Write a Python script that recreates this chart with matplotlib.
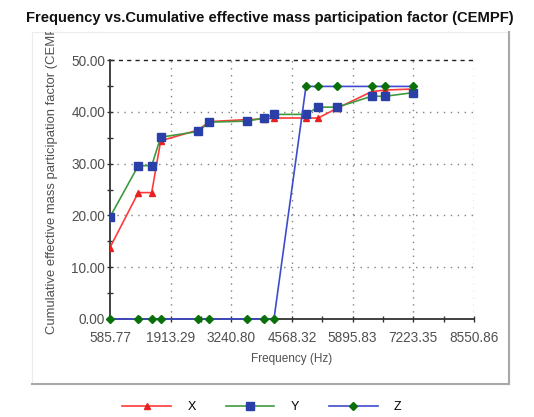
import numpy as np
import matplotlib
matplotlib.use("Agg")
import matplotlib.pyplot as plt
from matplotlib.patches import Rectangle
from matplotlib.ticker import MultipleLocator, FixedLocator

plt.rcParams['font.family'] = ['Liberation Sans', 'DejaVu Sans']

# Frequencies of the modes (Hz) and cumulative participation (%) per direction
freq = [585.77, 1205, 1498, 1695, 2518, 2758, 3577, 3955, 4174,
        4874, 5143, 5559, 6312, 6603, 7223.35]
cempf_x = [13.8, 24.4, 24.4, 34.4, 36.5, 38.1, 38.5, 38.6, 38.8,
           38.8, 38.8, 40.7, 43.9, 44.2, 44.4]
cempf_y = [19.7, 29.6, 29.6, 35.1, 36.2, 38.0, 38.2, 38.8, 39.5,
           39.5, 40.9, 40.9, 43.0, 43.0, 43.7]
cempf_z = [0.0, 0.0, 0.0, 0.0, 0.0, 0.0, 0.0, 0.0, 0.0,
           44.9, 44.9, 44.9, 44.9, 44.9, 44.9]

xtick_vals = [585.77, 1913.29, 3240.80, 4568.32, 5895.83, 7223.35, 8550.86]
ytick_vals = [0, 10, 20, 30, 40, 50]

fig = plt.figure(figsize=(5.34, 4.17), dpi=100)

# grey framed panel around the chart
W, H = 534.0, 417.0
panel = Rectangle((32 / W, 1 - 384 / H), 477 / W, 352 / H, transform=fig.transFigure,
                  facecolor='white', edgecolor='#ececec', lw=0.8, zorder=-5)
fig.add_artist(panel)
fig.add_artist(plt.Line2D([509 / W, 509 / W], [1 - 384 / H, 1 - 32 / H],
                          transform=fig.transFigure, color='#a8a8a8', lw=1.5, zorder=-4))
fig.add_artist(plt.Line2D([32 / W, 509 / W], [1 - 384 / H, 1 - 384 / H],
                          transform=fig.transFigure, color='#a8a8a8', lw=1.5, zorder=-4))

fig.text(0.505, 1 - 18 / H, 'Frequency vs.Cumulative effective mass participation factor (CEMPF)',
         ha='center', va='center', fontsize=10.6, fontweight='bold', color='#111111')

ax = fig.add_axes([110 / W, 1 - 319 / H, 364 / W, 259 / H])
ax.patch.set_alpha(0)

ax.plot(freq, cempf_x, color='#ff3a3a', lw=1.2, marker='^', ms=4.5,
        mfc='#e82020', mec='#e82020', label='X', zorder=3)
ax.plot(freq, cempf_y, color='#3f9a3f', lw=1.2, marker='s', ms=5.5,
        mfc='#2b3fa8', mec='#2b3fa8', label='Y', zorder=4)
ax.plot(freq, cempf_z, color='#3e4ccc', lw=1.2, marker='D', ms=4,
        mfc='#0a700a', mec='#0a700a', label='Z', zorder=5, clip_on=False)

ax.set_xlim(xtick_vals[0], xtick_vals[-1])
ax.set_ylim(0, 50)
ax.xaxis.set_major_locator(FixedLocator(xtick_vals))
ax.set_xticklabels(['%.2f' % v for v in xtick_vals])
mids = [(a + b) / 2 for a, b in zip(xtick_vals[:-1], xtick_vals[1:])]
ax.xaxis.set_minor_locator(FixedLocator(mids))
ax.yaxis.set_major_locator(FixedLocator(ytick_vals))
ax.set_yticklabels(['%.2f' % v for v in ytick_vals])
ax.yaxis.set_minor_locator(MultipleLocator(5))

ax.tick_params(which='major', direction='inout', length=5, width=1,
               color='#333333', labelsize=9.8, labelcolor='#505050')
ax.tick_params(axis='x', which='major', pad=6)
ax.tick_params(axis='y', which='major', pad=1)
ax.tick_params(which='minor', direction='inout', length=4, width=1, color='#333333')

for v in xtick_vals[1:]:
    ax.axvline(v, color='#808080', lw=1, ls=(0, (1, 4)), zorder=1)
for v in ytick_vals[1:-1]:
    ax.axhline(v, color='#808080', lw=1, ls=(0, (1, 4)), zorder=1)
ax.axhline(50, color='#222222', lw=1, ls=(0, (3, 3)), zorder=1, clip_on=False)

for side in ['top', 'right']:
    ax.spines[side].set_visible(False)
for side in ['left', 'bottom']:
    ax.spines[side].set_color('#333333')
    ax.spines[side].set_linewidth(1.3)

ax.set_xlabel('Frequency (Hz)', fontsize=8.5, color='#505050', labelpad=6)
ylab = ax.set_ylabel('Cumulative effective mass participation factor (CEMPF)',
                     fontsize=9.4, color='#505050')
ax.yaxis.set_label_coords(-0.143, 0.56)
ylab.set_clip_path(panel)

fig.legend(loc='center', bbox_to_anchor=(262 / W, 1 - 407 / H), ncol=3, frameon=False,
           fontsize=9, handlelength=3.9, handletextpad=1.3, columnspacing=2.4)

fig.savefig('out.png', dpi=100)
